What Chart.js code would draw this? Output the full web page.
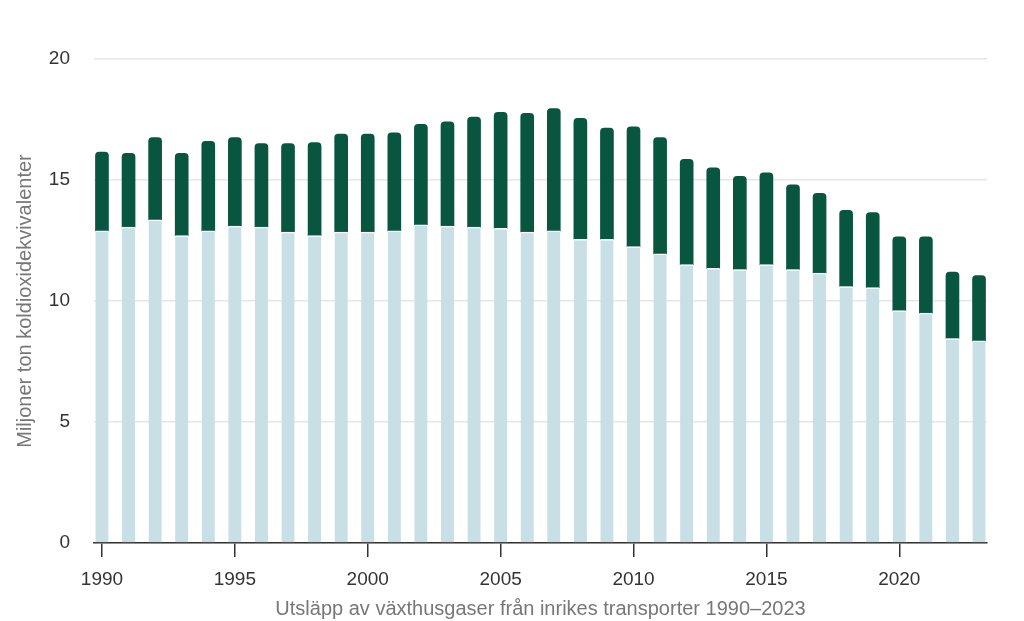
<!DOCTYPE html>
<html>
<head>
<meta charset="utf-8">
<script src="https://cdn.jsdelivr.net/npm/chart.js@4"></script>
<style>
  html, body { margin: 0; padding: 0; background: #fff; }
  #wrap { width: 1024px; height: 621px; }
</style>
</head>
<body>
<div id="wrap"><canvas id="plotCanvas"></canvas></div>
<script>
const years = [1990, 1991, 1992, 1993, 1994, 1995, 1996, 1997, 1998, 1999,
               2000, 2001, 2002, 2003, 2004, 2005, 2006, 2007, 2008, 2009,
               2010, 2011, 2012, 2013, 2014, 2015, 2016, 2017, 2018, 2019,
               2020, 2021, 2022, 2023];

// lower (light) part of each bar
const lowerPart = [12.9, 13.05, 13.35, 12.7, 12.9, 13.1, 13.05, 12.85, 12.7, 12.85,
                   12.85, 12.9, 13.15, 13.1, 13.05, 13.0, 12.85, 12.9, 12.55, 12.55,
                   12.25, 11.95, 11.5, 11.35, 11.3, 11.5, 11.3, 11.15, 10.6, 10.55,
                   9.6, 9.5, 8.45, 8.35];

// bar totals, the dark part is the rest on top
const totals = [16.15, 16.1, 16.75, 16.1, 16.6, 16.75, 16.5, 16.5, 16.55, 16.9,
                16.9, 16.95, 17.3, 17.4, 17.6, 17.8, 17.75, 17.95, 17.55, 17.15,
                17.2, 16.75, 15.85, 15.5, 15.15, 15.3, 14.8, 14.45, 13.75, 13.65,
                12.65, 12.65, 11.2, 11.05];

const upperPart = totals.map((t, i) => +(t - lowerPart[i]).toFixed(2));

const yTicks = [0, 5, 10, 15, 20];
const xTicks = [1990, 1995, 2000, 2005, 2010, 2015, 2020];

const font = "'Liberation Sans', Helvetica, Arial, sans-serif";

const ctx = document.getElementById("plotCanvas");

const chart = new Chart(ctx, {
    type: 'bar',
    data: {
        labels: years,
        datasets: [{
            data: lowerPart,
            backgroundColor: '#c9dfe6',
            borderColor: '#ffffff',
            borderWidth: {top: 1.5, left: 0, right: 0, bottom: 0},
            barThickness: 13
        }, {
            data: upperPart,
            backgroundColor: '#08563f',
            borderWidth: 0,
            borderRadius: {topLeft: 4, topRight: 4, bottomLeft: 0, bottomRight: 0},
            borderSkipped: false,
            barThickness: 13
        }]
    },
    options: {
        responsive: true,
        maintainAspectRatio: false,
        animation: false,
        layout: {
            padding: {top: 59, right: 37, bottom: 0, left: 0}
        },
        plugins: {
            legend: {display: false},
            tooltip: {enabled: false}
        },
        scales: {
            x: {
                type: 'linear',
                stacked: true,
                offset: false,
                min: 1989.7,
                max: 2023.3,
                afterBuildTicks: (scale) => {
                    scale.ticks = xTicks.map(v => ({value: v}));
                },
                afterFit: (scale) => { scale.height = 78; },
                ticks: {
                    color: '#333',
                    font: {family: font, size: 19},
                    padding: 11,
                    maxRotation: 0,
                    callback: (v) => String(v)
                },
                grid: {
                    offset: false,
                    drawOnChartArea: false,
                    drawTicks: true,
                    tickLength: 14,
                    color: '#333',
                    lineWidth: 1.5
                },
                border: {display: true, color: '#333', width: 1.5},
                title: {
                    display: true,
                    text: 'Utsläpp av växthusgaser från inrikes transporter 1990–2023',
                    color: '#777',
                    font: {family: font, size: 20},
                    padding: {top: 2, bottom: 0}
                }
            },
            y: {
                stacked: true,
                min: 0,
                max: 20,
                afterBuildTicks: (scale) => {
                    scale.ticks = yTicks.map(v => ({value: v}));
                },
                afterFit: (scale) => { scale.width = 94; },
                ticks: {
                    color: '#333',
                    font: {family: font, size: 19},
                    padding: 24
                },
                grid: {
                    color: '#e6e6e6',
                    lineWidth: 1.5,
                    drawTicks: false
                },
                border: {display: false},
                title: {
                    display: true,
                    text: 'Miljoner ton koldioxidekvivalenter',
                    color: '#777',
                    font: {family: font, size: 20},
                    padding: {top: 13, bottom: 0}
                }
            }
        }
    }
});
</script>
</body>
</html>
